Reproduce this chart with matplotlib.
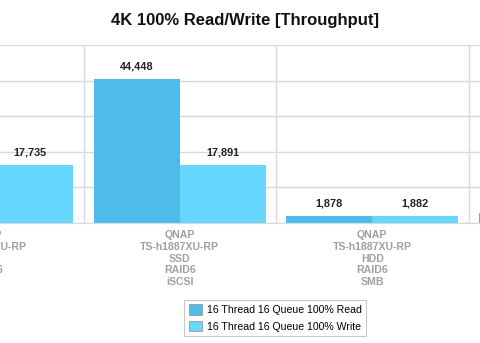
import matplotlib
matplotlib.use("Agg")
import matplotlib.pyplot as plt
import numpy as np

plt.rcParams['font.family'] = ['Liberation Sans', 'DejaVu Sans']

# data
categories = [
    "QNAP\nTS-h1887XU-RP\nSSD\nRAID6\nSMB",
    "QNAP\nTS-h1887XU-RP\nSSD\nRAID6\niSCSI",
    "QNAP\nTS-h1887XU-RP\nHDD\nRAID6\nSMB",
    "QNAP\nTS-h1887XU-RP\nHDD\nRAID6\niSCSI",
]
read_vals = [43000, 44448, 1878, 2900]
write_vals = [17735, 17891, 1882, 2900]
series_names = ["16 Thread 16 Queue 100% Read", "16 Thread 16 Queue 100% Write"]

read_color = '#4fbbeb'
write_color = '#66d7ff'
grid_color = '#d9d9d9'

W, H = 480, 343
fig = plt.figure(figsize=(W / 100, H / 100), dpi=100)

# the chart is wider than the picture: the axes runs off both sides
left_px, right_px = -109, 661
top_px, bottom_px = 45, 222.5
ax = fig.add_axes([left_px / W, 1 - bottom_px / H,
                   (right_px - left_px) / W, (bottom_px - top_px) / H])

x = np.arange(len(categories))
bw = 0.448
b1 = ax.bar(x - bw / 2, read_vals, bw, color=read_color, label=series_names[0], zorder=2)
b2 = ax.bar(x + bw / 2, write_vals, bw, color=write_color, label=series_names[1], zorder=2)

ax.set_xlim(-0.5, len(categories) - 0.5)
ax.set_ylim(0, 55000)
ax.set_yticks(np.arange(0, 55001, 11000))
ax.set_yticklabels([])
ax.tick_params(axis='y', length=0)
ax.yaxis.grid(True, color=grid_color, linewidth=1, zorder=0)

# category separators
ax.set_xticks(np.arange(0.5, len(categories) - 1, 1), minor=True)
ax.xaxis.grid(True, which='minor', color=grid_color, linewidth=1, zorder=0)
ax.set_xticks(x)
ax.set_xticklabels(categories, color='#a0a0a0', fontsize=7.6, fontweight='bold',
                   linespacing=1.22)
ax.tick_params(axis='x', which='both', length=0, pad=5.5)
ax.set_axisbelow(True)

for s in ['left', 'right', 'top']:
    ax.spines[s].set_visible(False)
ax.spines['bottom'].set_color(grid_color)

# value labels, only for bars whose label lands inside the picture
for bars in (b1, b2):
    labels = []
    for r, v in zip(bars, bars.datavalues):
        cx = ax.transData.transform((r.get_x() + r.get_width() / 2, 0))[0]
        labels.append(f"{v:,.0f}" if 15 < cx < W - 15 else "")
    ax.bar_label(bars, labels=labels, padding=5.5, fontsize=7.8,
                 color='#222222', fontweight='semibold')

fig.text(0.51, 1 - 20 / H, "4K 100% Read/Write [Throughput]", ha='center', va='center',
         fontsize=12, fontweight='bold', color='#111111')

leg = fig.legend(handles=[b1, b2], loc='center', bbox_to_anchor=(275 / W, 1 - 318 / H),
                 fontsize=7.6, frameon=True, fancybox=False, handlelength=1.25,
                 handleheight=1.15, handletextpad=0.45, borderpad=0.4, labelspacing=0.55,
                 borderaxespad=0)
leg.get_frame().set_edgecolor('#bbbbbb')
leg.get_frame().set_linewidth(0.8)
for p in leg.get_patches():
    p.set_edgecolor('#999999')
    p.set_linewidth(0.6)

fig.savefig("out.png", dpi=100)
